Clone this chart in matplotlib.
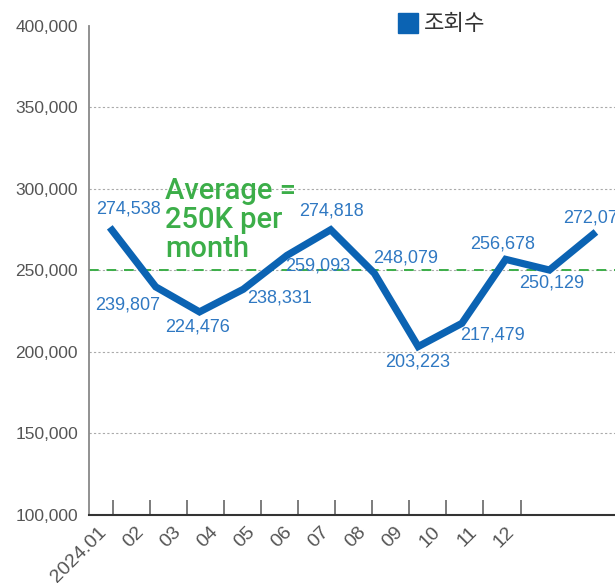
import matplotlib
matplotlib.use("Agg")
import matplotlib.pyplot as plt
from matplotlib.lines import Line2D
from matplotlib.transforms import ScaledTranslation

months = ["2024.01", "02", "03", "04", "05", "06", "07", "08", "09", "10", "11", "12"]
views = [274538, 239807, 224476, 238331, 259093, 274818, 248079, 203223, 217479, 256678, 250129, 272071]
average = 250000
yticks = [100000, 150000, 200000, 250000, 300000, 350000, 400000]
series_name = "조회수"
avg_text = "Average =\n250K per\nmonth"

# label offsets (pixels, x right / y up)
label_offsets = [(16, 21), (-28, -18), (-2, -15), (36, -9), (31, -11), (1, 19),
                 (31, 15), (-1, -15), (31, -12), (-3, 15), (2, -13), (2, 16)]

NARROW = ["Liberation Sans", "DejaVu Sans"]
BLUE = "#0b63b3"
LBLUE = "#2f78c2"
GREEN = "#3cae49"
GRAY = "#555555"

fig = plt.figure(figsize=(6.15, 5.83), dpi=100)
ax = fig.add_axes([89/615, 68/583, 1 - 89/615, (515 - 25.5)/583])

x = list(range(len(views)))
ax.plot(x, views, color=BLUE, lw=5.2, solid_joinstyle="miter", zorder=3)
ax.axhline(average, color=GREEN, lw=1.4, ls=(0, (5, 4)), zorder=2)

ax.set_ylim(100000, 400000)
ax.set_xlim(-0.526, 11.50)

ax.set_yticks(yticks)
ax.set_yticklabels([f"{v:,}" for v in yticks], family=NARROW, fontsize=12.5, color=GRAY)
ax.tick_params(axis="y", length=0, pad=8)

# x tick marks spaced as in the reference
tick_pos = [(1 + 37.04 * i) / 43.73 for i in range(len(months))]
ax.set_xticks(tick_pos)
ax.set_xticklabels(months, rotation=45, ha="right", rotation_mode="anchor",
                   family=NARROW, fontsize=14, color=GRAY)
ax.tick_params(axis="x", direction="in", length=11, width=1.2, color="#666666", pad=6)
for lab in ax.get_xticklabels():
    lab.set_transform(lab.get_transform() + ScaledTranslation(-15/100, 0, fig.dpi_scale_trans))

ax.yaxis.grid(True, color="#aaaaaa", lw=0.8, ls=(0, (2, 2)))
ax.set_axisbelow(True)
gls = ax.get_ygridlines()
gls[0].set_visible(False)
gls[-1].set_visible(False)

for s in ["top", "right"]:
    ax.spines[s].set_visible(False)
ax.spines["left"].set_color("#888888")
ax.spines["left"].set_linewidth(1.3)
ax.spines["bottom"].set_color("#333333")
ax.spines["bottom"].set_linewidth(1.5)

for i, v in enumerate(views):
    dx, dy = label_offsets[i]
    ax.annotate(f"{v:,}", (i, v), xytext=(dx, dy), textcoords="offset pixels",
                ha="center", va="center", family=NARROW, fontsize=13,
                color=LBLUE, zorder=4, annotation_clip=False)

ax.text(165/615, 1 - 177/583, avg_text, transform=fig.transFigure, ha="left", va="top",
        family=["Roboto", "Liberation Sans", "DejaVu Sans"], fontweight="medium",
        fontsize=21, color=GREEN, linespacing=1.05, zorder=5)

handle = Line2D([], [], color=BLUE, marker="s", ls="none", markersize=14)
leg = fig.legend([handle], [series_name], loc="center left",
                 bbox_to_anchor=(388/615, 1 - 24/583), frameon=False,
                 handlelength=0.8, handletextpad=0.3, borderpad=0,
                 prop={"family": ["Noto Sans CJK KR", "DejaVu Sans"], "size": 16})
for t in leg.get_texts():
    t.set_color("#333333")

fig.savefig("out.png", dpi=100)
